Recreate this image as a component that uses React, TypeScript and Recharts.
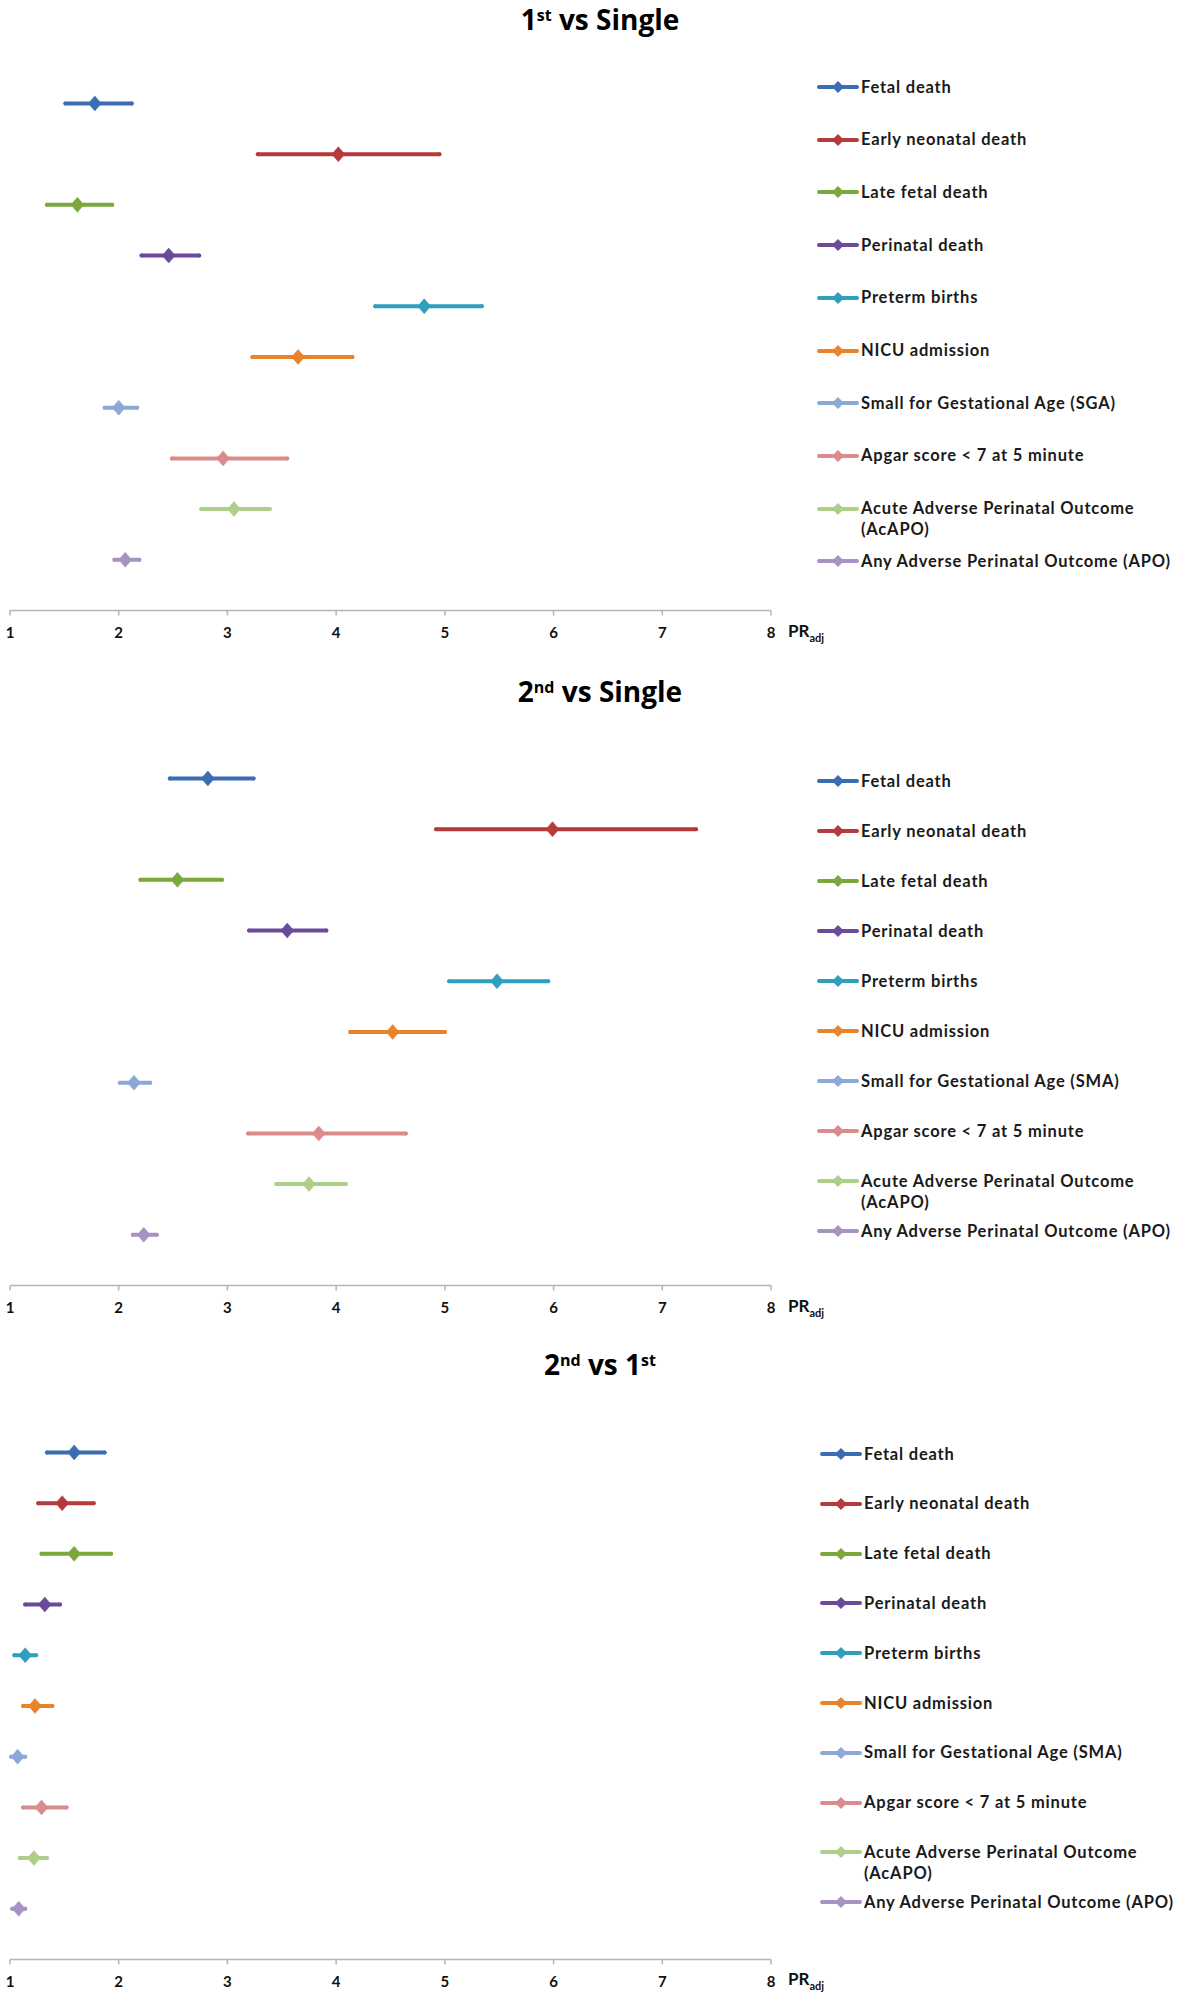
import React from 'react';
import { ScatterChart, Scatter, XAxis, YAxis, ErrorBar } from 'recharts';

// ---------- data ----------
const LABELS_1 = [
  'Fetal death',
  'Early neonatal death',
  'Late fetal death',
  'Perinatal death',
  'Preterm births',
  'NICU admission',
  'Small for Gestational Age (SGA)',
  'Apgar score < 7 at 5 minute',
  'Acute Adverse Perinatal Outcome\n(AcAPO)',
  'Any Adverse Perinatal Outcome (APO)',
];
const LABELS_2 = [
  'Fetal death',
  'Early neonatal death',
  'Late fetal death',
  'Perinatal death',
  'Preterm births',
  'NICU admission',
  'Small for Gestational Age (SMA)',
  'Apgar score < 7 at 5 minute',
  'Acute Adverse Perinatal Outcome\n(AcAPO)',
  'Any Adverse Perinatal Outcome (APO)',
];
const COLORS = [
  '#3C6DB3', '#B63A3A', '#7AA83C', '#6A4A99', '#2E9FBC',
  '#E8832B', '#8CA9D6', '#DA8B8B', '#AFCE8A', '#A693C4',
];
const X_TICKS = [1, 2, 3, 4, 5, 6, 7, 8];

const P1_PR = [1.78, 4.02, 1.62, 2.46, 4.81, 3.65, 2.0, 2.96, 3.06, 2.06];
const P1_LO = [1.51, 3.28, 1.34, 2.21, 4.36, 3.23, 1.87, 2.49, 2.76, 1.96];
const P1_HI = [2.12, 4.95, 1.94, 2.74, 5.34, 4.15, 2.17, 3.55, 3.39, 2.19];

const P2_PR = [2.82, 5.99, 2.54, 3.55, 5.48, 4.52, 2.14, 3.84, 3.75, 2.23];
const P2_LO = [2.47, 4.92, 2.2, 3.2, 5.04, 4.13, 2.01, 3.19, 3.45, 2.13];
const P2_HI = [3.24, 7.31, 2.95, 3.91, 5.95, 5.0, 2.29, 4.64, 4.09, 2.35];

const P3_PR = [1.59, 1.48, 1.59, 1.32, 1.14, 1.23, 1.07, 1.29, 1.22, 1.08];
const P3_LO = [1.34, 1.26, 1.29, 1.14, 1.04, 1.12, 1.01, 1.12, 1.09, 1.02];
const P3_HI = [1.87, 1.77, 1.93, 1.46, 1.24, 1.39, 1.14, 1.52, 1.34, 1.14];

const TITLE_1: [string, boolean][] = [['1', false], ['st', true], [' vs Single', false]];
const TITLE_2: [string, boolean][] = [['2', false], ['nd', true], [' vs Single', false]];
const TITLE_3: [string, boolean][] = [['2', false], ['nd', true], [' vs 1', false], ['st', true]];

// ---------- layout ----------
const W = 1181;
const CHART_H = 651;
const M_TOP = 2;
const X_AXIS_H = 40.5;
const PLOT_LEFT = 10;
const PLOT_RIGHT = 771;
const PLOT_H = CHART_H - M_TOP - X_AXIS_H;

const FONT = 'Lato, "Open Sans", sans-serif';

const Diamond = (props: any) => {
  const { cx, cy, fill } = props;
  if (cx == null || cy == null) return null;
  const hw = 6.5;
  const hh = 7.5;
  return (
    <polygon
      points={`${cx},${cy - hh} ${cx + hw},${cy} ${cx},${cy + hh} ${cx - hw},${cy}`}
      fill={fill}
      stroke={fill}
      strokeWidth={0.5}
    />
  );
};

const LegendIcon = ({ color }: { color: string }) => (
  <svg width={42} height={16} style={{ display: 'block' }}>
    <line x1={2} y1={8} x2={40} y2={8} stroke={color} strokeWidth={4} strokeLinecap="round" />
    <polygon points="21,2 27,8 21,14 15,8" fill={color} />
  </svg>
);

type PanelProps = {
  top: number;
  title: [string, boolean][];
  titleBaseline: number;
  labels: string[];
  pr: number[];
  lo: number[];
  hi: number[];
  legendTop: number;
  legendStep: number;
  legendX: number;
};

const Panel = ({ top, title, titleBaseline, labels, pr, lo, hi, legendTop, legendStep, legendX }: PanelProps) => {
  const rows = pr.map((v, i) => ({ x: v, y: 10 - i, err: [v - lo[i], hi[i] - v] }));
  const plotTop = top + M_TOP;
  const axisY = plotTop + PLOT_H;
  return (
    <>
      <div style={{ position: 'absolute', left: 0, top }}>
        <ScatterChart
          width={W}
          height={CHART_H}
          margin={{ top: M_TOP, right: W - PLOT_RIGHT, left: PLOT_LEFT, bottom: 0 }}
        >
          <XAxis
            type="number"
            dataKey="x"
            domain={[1, 8]}
            ticks={X_TICKS}
            allowDataOverflow
            height={X_AXIS_H}
            axisLine={{ stroke: '#b5b5b5', strokeWidth: 1.5 }}
            tickLine={{ stroke: '#b5b5b5', strokeWidth: 1.5 }}
            tickSize={5}
            tickMargin={12}
            tick={{ fill: '#111', fontSize: 15, fontWeight: 700, fontFamily: FONT }}
          />
          <YAxis
            type="number"
            dataKey="y"
            domain={[0, 12]}
            width={0}
            tick={false}
            tickLine={false}
            axisLine={{ stroke: '#b5b5b5', strokeWidth: 1.5 }}
          />
          {rows.map((r, i) => (
            <Scatter
              key={i}
              name={labels[i]}
              data={[r]}
              fill={COLORS[i]}
              shape={(p: any) => <Diamond {...p} fill={COLORS[i]} />}
              isAnimationActive={false}
            >
              <ErrorBar
                dataKey="err"
                direction="x"
                width={0}
                stroke={COLORS[i]}
                strokeWidth={4}
                strokeLinecap="round"
                isAnimationActive={false}
              />
            </Scatter>
          ))}
        </ScatterChart>
      </div>
      {/* title */}
      <div
        style={{
          position: 'absolute',
          left: 400,
          width: 400,
          top: titleBaseline - 31,
          textAlign: 'center',
          fontFamily: '"Open Sans", sans-serif',
          fontWeight: 700,
          fontSize: 28,
          lineHeight: '40px',
          color: '#000',
          whiteSpace: 'nowrap',
        }}
      >
        {title.map(([t, sup], k) =>
          sup ? (
            <span key={k} style={{ fontSize: 16, verticalAlign: 9, lineHeight: 0 }}>{t}</span>
          ) : (
            <span key={k}>{t}</span>
          )
        )}
      </div>
      {/* axis title */}
      <div
        style={{
          position: 'absolute',
          left: 788,
          top: axisY + 11,
          fontFamily: FONT,
          fontWeight: 700,
          fontSize: 17,
          lineHeight: '17px',
          color: '#111',
          whiteSpace: 'nowrap',
        }}
      >
        PR<span style={{ fontSize: 11, verticalAlign: -5, lineHeight: 0 }}>adj</span>
      </div>
      {/* legend */}
      {labels.map((lab, i) => {
        const cy = legendTop + i * legendStep;
        return (
          <React.Fragment key={i}>
            <div style={{ position: 'absolute', left: legendX, top: cy - 8 }}>
              <LegendIcon color={COLORS[i]} />
            </div>
            <div
              style={{
                position: 'absolute',
                left: legendX + 44,
                top: cy - 10.5,
                fontFamily: FONT,
                fontWeight: 700,
                fontSize: 16.5,
                letterSpacing: '0.8px',
                lineHeight: '21px',
                color: '#1a1a1a',
                whiteSpace: 'pre',
              }}
            >
              {lab}
            </div>
          </React.Fragment>
        );
      })}
    </>
  );
};

export default function App() {
  return (
    <div
      style={{
        position: 'absolute',
        left: 0,
        top: 0,
        width: W,
        height: 2001,
        overflow: 'hidden',
        background: '#fff',
      }}
    >
      <Panel top={0} title={TITLE_1} titleBaseline={30} labels={LABELS_1} pr={P1_PR} lo={P1_LO} hi={P1_HI}
        legendTop={87} legendStep={52.7} legendX={817} />
      <Panel top={675} title={TITLE_2} titleBaseline={702} labels={LABELS_2} pr={P2_PR} lo={P2_LO} hi={P2_HI}
        legendTop={781} legendStep={50} legendX={817} />
      <Panel top={1348.5} title={TITLE_3} titleBaseline={1375} labels={LABELS_2} pr={P3_PR} lo={P3_LO} hi={P3_HI}
        legendTop={1454} legendStep={49.8} legendX={820} />
    </div>
  );
}
